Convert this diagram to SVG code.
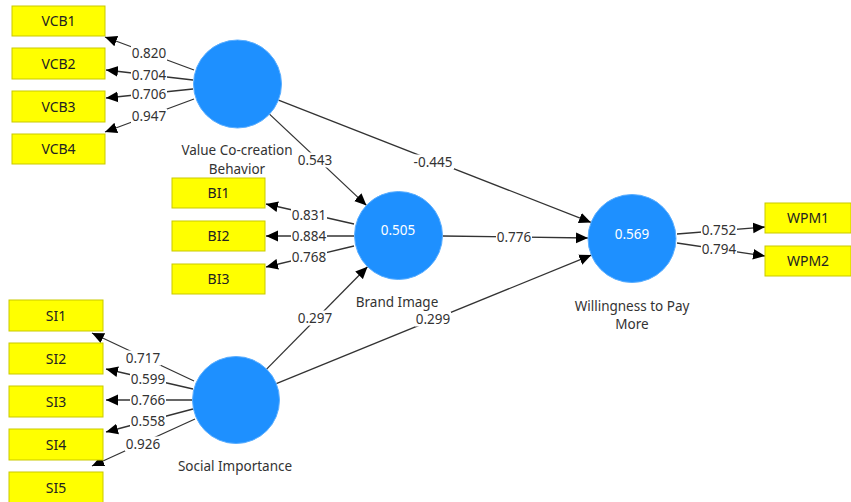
<svg xmlns="http://www.w3.org/2000/svg" width="851" height="502" viewBox="0 0 851 502">
<style>
.ind rect{fill:#FFFF00;stroke:#C9C900;stroke-width:1}
.ind text{font-family:"Noto Sans","Liberation Sans",sans-serif;font-size:14px;fill:#222;text-anchor:middle}
.lv circle{fill:#1E90FF;stroke:#5AAEFF;stroke-width:1}
.lv .val{font-family:"Noto Sans","Liberation Sans",sans-serif;font-size:13.5px;fill:#fff;text-anchor:middle}
.lv .name{font-family:"Noto Sans","Liberation Sans",sans-serif;font-size:13.5px;fill:#333;text-anchor:middle}
.edges line{stroke:#333;stroke-width:1.3;marker-end:url(#ah)}
.bg{fill:#fff}
.lbl{font-family:"Noto Sans","Liberation Sans",sans-serif;font-size:13.5px;fill:#333;text-anchor:middle}
</style>
<defs>
<marker id="ah" markerUnits="userSpaceOnUse" markerWidth="12" markerHeight="12" viewBox="0 0 10 10" refX="10" refY="5" orient="auto">
<path d="M0,0.5 L10,5 L0,9.5 z" fill="#000"/>
</marker>
</defs>
<rect width="851" height="502" fill="#fff"/>

<g class="edges" id="connectors">
<line x1="194" y1="70" x2="105" y2="37"/>
<line x1="193" y1="80" x2="106" y2="70"/>
<line x1="193" y1="89" x2="106" y2="98"/>
<line x1="194" y1="99" x2="105" y2="132"/>
<line x1="354" y1="224" x2="266" y2="204"/>
<line x1="354" y1="236" x2="266" y2="236"/>
<line x1="354" y1="246" x2="266" y2="267"/>
<line x1="194" y1="381" x2="92" y2="333"/>
<line x1="193" y1="389" x2="106" y2="369"/>
<line x1="193" y1="400" x2="106" y2="400"/>
<line x1="193" y1="409" x2="106" y2="432"/>
<line x1="195" y1="419" x2="92" y2="466"/>
<line x1="677" y1="234" x2="765" y2="227"/>
<line x1="677" y1="243" x2="765" y2="256"/>
<line x1="269.5" y1="114.1" x2="366.5" y2="205.4"/>
<line x1="278.5" y1="100.1" x2="591" y2="222.4"/>
<line x1="442.5" y1="236" x2="588" y2="238"/>
<line x1="266.6" y1="369.1" x2="367.5" y2="266.8"/>
<line x1="276.3" y1="383.6" x2="591.3" y2="255.1"/>
<g id="labels">
<rect class="bg" x="131" y="46" width="36" height="15"/><text class="lbl" x="149" y="58">0.820</text>
<rect class="bg" x="131" y="68" width="36" height="15"/><text class="lbl" x="149" y="80">0.704</text>
<rect class="bg" x="131" y="86.5" width="36" height="15"/><text class="lbl" x="149" y="98.5">0.706</text>
<rect class="bg" x="131" y="108.5" width="36" height="15"/><text class="lbl" x="149" y="120.5">0.947</text>
<rect class="bg" x="291" y="207.5" width="36" height="15"/><text class="lbl" x="309" y="219.5">0.831</text>
<rect class="bg" x="291" y="228.5" width="36" height="15"/><text class="lbl" x="309" y="240.5">0.884</text>
<rect class="bg" x="291" y="249.5" width="36" height="15"/><text class="lbl" x="309" y="261.5">0.768</text>
<rect class="bg" x="125" y="350.5" width="36" height="15"/><text class="lbl" x="143" y="362.5">0.717</text>
<rect class="bg" x="130" y="371.5" width="36" height="15"/><text class="lbl" x="148" y="383.5">0.599</text>
<rect class="bg" x="130" y="392.5" width="36" height="15"/><text class="lbl" x="148" y="404.5">0.766</text>
<rect class="bg" x="130" y="413.5" width="36" height="15"/><text class="lbl" x="148" y="425.5">0.558</text>
<rect class="bg" x="125" y="436.5" width="36" height="15"/><text class="lbl" x="143" y="448.5">0.926</text>
<rect class="bg" x="701" y="222.5" width="36" height="15"/><text class="lbl" x="719" y="234.5">0.752</text>
<rect class="bg" x="701" y="241.5" width="36" height="15"/><text class="lbl" x="719" y="253.5">0.794</text>
<rect class="bg" x="297" y="152.5" width="36" height="15"/><text class="lbl" x="315" y="164.5">0.543</text>
<rect class="bg" x="412" y="154.5" width="42" height="15"/><text class="lbl" x="433" y="166.5">-0.445</text>
<rect class="bg" x="496" y="229.5" width="36" height="15"/><text class="lbl" x="514" y="241.5">0.776</text>
<rect class="bg" x="297" y="310.5" width="36" height="15"/><text class="lbl" x="315" y="322.5">0.297</text>
<rect class="bg" x="415" y="311.5" width="36" height="15"/><text class="lbl" x="433" y="323.5">0.299</text>
</g>
</g>

<g class="ind" id="VCB1"><rect x="12" y="6" width="93" height="30"/><text x="58.5" y="26">VCB1</text></g>
<g class="ind" id="VCB2"><rect x="12" y="48" width="93" height="31"/><text x="58.5" y="68.5">VCB2</text></g>
<g class="ind" id="VCB3"><rect x="12" y="91" width="93" height="31"/><text x="58.5" y="111.5">VCB3</text></g>
<g class="ind" id="VCB4"><rect x="12" y="134" width="93" height="30"/><text x="58.5" y="154">VCB4</text></g>
<g class="ind" id="BI1"><rect x="172" y="178" width="93" height="30"/><text x="218.5" y="198">BI1</text></g>
<g class="ind" id="BI2"><rect x="172" y="221" width="93" height="30"/><text x="218.5" y="241">BI2</text></g>
<g class="ind" id="BI3"><rect x="172" y="264" width="93" height="30"/><text x="218.5" y="284">BI3</text></g>
<g class="ind" id="SI1"><rect x="9" y="300" width="94" height="31"/><text x="56" y="320.5">SI1</text></g>
<g class="ind" id="SI2"><rect x="9" y="343" width="94" height="31"/><text x="56" y="363.5">SI2</text></g>
<g class="ind" id="SI3"><rect x="9" y="386" width="94" height="31"/><text x="56" y="406.5">SI3</text></g>
<g class="ind" id="SI4"><rect x="9" y="429" width="94" height="31"/><text x="56" y="449.5">SI4</text></g>
<g class="ind" id="SI5"><rect x="9" y="472" width="94" height="31"/><text x="56" y="492.5">SI5</text></g>
<g class="ind" id="WPM1"><rect x="765" y="203" width="86" height="30"/><text x="808" y="223">WPM1</text></g>
<g class="ind" id="WPM2"><rect x="765" y="246" width="86" height="30"/><text x="808" y="266">WPM2</text></g>

<g class="lv" id="VCB"><circle cx="237.5" cy="84" r="44"/><text class="name" x="237" y="155">Value Co-creation</text><text class="name" x="237" y="174">Behavior</text></g>
<g class="lv" id="BI"><circle cx="398.5" cy="235.5" r="44"/><text class="val" x="398" y="235">0.505</text><text class="name" x="397" y="307">Brand Image</text></g>
<g class="lv" id="WPM"><circle cx="632" cy="238.5" r="44"/><text class="val" x="632" y="239">0.569</text><text class="name" x="632" y="311">Willingness to Pay</text><text class="name" x="632" y="329">More</text></g>
<g class="lv" id="SI"><circle cx="236" cy="400" r="43.5"/><text class="name" x="235" y="471">Social Importance</text></g>
</svg>
